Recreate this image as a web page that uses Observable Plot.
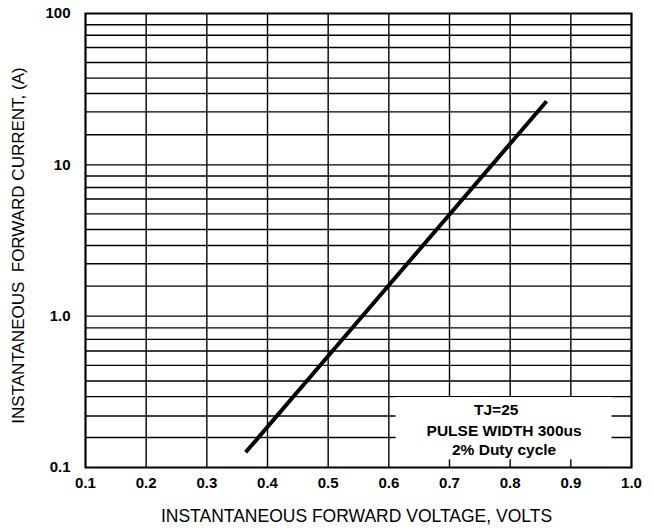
<!DOCTYPE html>
<html>
<head>
<meta charset="utf-8">
<script src="https://cdn.jsdelivr.net/npm/d3@7"></script>
<script src="https://cdn.jsdelivr.net/npm/@observablehq/plot@0.6"></script>
<style>
  html, body { margin: 0; padding: 0; background: #fff; }
</style>
</head>
<body>
<div id="chart"></div>
<script>
// Forward characteristic (straight in this log–linear grid)
const voltage = [0.364, 0.5, 0.6, 0.7, 0.86];
const current = [0.126, 0.545, 1.60, 4.70, 26.3];

// Vertical grid lines / x ticks
const xTicks = [0.1, 0.2, 0.3, 0.4, 0.5, 0.6, 0.7, 0.8, 0.9, 1.0];

// y tick labels
const yTicks = [0.1, 1, 10, 100];
const yTickLabels = ["0.1", "1.0", "10", "100"];

// Horizontal grid lines as drawn on the original sheet
const yGrid = [
  0.158, 0.219, 0.294, 0.373, 0.473, 0.588, 0.702, 0.837,
  1,
  1.58, 2.22, 2.93, 3.74, 4.74, 5.95, 7.09, 8.43,
  10,
  15.8, 22.4, 29.6, 37.4, 47.4, 59.6, 71.9, 84.2
];

// Note box
const noteBox = [{x1: 0.612, x2: 0.968, y1: 0.1124, y2: 0.29}];
const noteLines = ["TJ=25", "PULSE WIDTH 300us", "2% Duty cycle"];
const noteX = [0.777, 0.79, 0.79];
const noteY = [0.240, 0.1746, 0.1308];

const xLabel = "INSTANTANEOUS FORWARD VOLTAGE, VOLTS";
const yLabel = "INSTANTANEOUS\u00a0 FORWARD CURRENT, (A)";

const curve = voltage.map((v, i) => ({v, a: current[i]}));
const notes = noteLines.map((t, i) => ({t, x: noteX[i], y: noteY[i]}));

const chart = Plot.plot({
  width: 653,
  height: 529,
  marginLeft: 85,
  marginRight: 22,
  marginTop: 13,
  marginBottom: 62,
  style: {fontFamily: "'Liberation Sans', Arial, sans-serif", background: "#fff", color: "#000"},
  x: {domain: [0.1, 1.0], label: null},
  y: {type: "log", domain: [0.1, 100], label: null},
  marks: [
    Plot.ruleX(xTicks, {stroke: "#000", strokeWidth: 1.4}),
    Plot.ruleY(yGrid, {stroke: "#000", strokeWidth: 1.4}),
    Plot.rect(noteBox, {x1: "x1", x2: "x2", y1: "y1", y2: "y2", fill: "#fff"}),
    Plot.text(notes, {x: "x", y: "y", text: "t", fontSize: 15.5, fontWeight: "bold", fill: "#000", textAnchor: "middle"}),
    Plot.frame({stroke: "#000", strokeWidth: 2}),
    Plot.line(curve, {x: "v", y: "a", stroke: "#000", strokeWidth: 4, strokeLinecap: "butt"}),
    Plot.axisX({ticks: xTicks, tickFormat: d3.format(".1f"), tickSize: 0, tickPadding: 10, fontSize: 15, fontWeight: "bold", label: null}),
    Plot.axisY({ticks: yTicks, tickFormat: (d) => yTickLabels[yTicks.indexOf(d)], tickSize: 0, tickPadding: 15, fontSize: 15, fontWeight: "bold", label: null}),
    Plot.text([xLabel], {frameAnchor: "bottom", dy: 49, dx: -2, fontSize: 17.5, fill: "#000", textAnchor: "middle", lineAnchor: "middle"}),
    Plot.text([yLabel], {frameAnchor: "left", dx: -67, dy: 5, rotate: -90, fontSize: 17, fill: "#000", textAnchor: "middle", lineAnchor: "middle"})
  ]
});
document.getElementById("chart").appendChild(chart);
</script>
</body>
</html>
